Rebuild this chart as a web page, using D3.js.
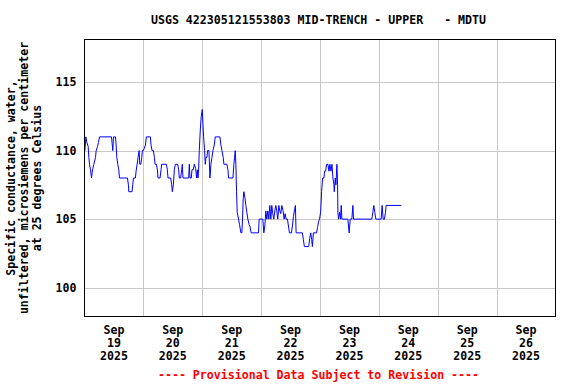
<!DOCTYPE html>
<html><head><meta charset="utf-8">
<script src="https://cdn.jsdelivr.net/npm/d3@7"></script>
<style>
html,body{margin:0;padding:0;background:#fff;}
text{font-family:"DejaVu Sans Mono",monospace;font-weight:bold;white-space:pre;}
</style></head>
<body>
<svg id="c" width="576" height="384"></svg>
<script>
const title = "USGS 422305121553803 MID-TRENCH - UPPER   - MDTU";
const yLabelLines = ["Specific conductance, water,", "unfiltered, microsiemens per centimeter", "at 25 degrees Celsius"];
const footer = "---- Provisional Data Subject to Revision ----";
const yTicks = [100, 105, 110, 115];
const dayLabels = ["19", "20", "21", "22", "23", "24", "25", "26"];
const monthLabel = "Sep";
const yearLabel = "2025";
// hours after 2025-09-19 00:00
const hours = [0.15,0.56,0.96,1.5,1.78,2.05,2.45,2.86,3.13,3.4,3.81,4.49,4.76,5.3,5.71,6.11,11.0,11.27,11.54,11.81,12.62,12.9,13.17,13.57,13.98,14.25,17.5,17.91,18.05,19.4,19.68,19.94,20.76,21.03,21.44,21.84,22.25,22.52,22.93,23.34,23.6,24.0,24.83,25.23,26.86,27.13,27.54,28.08,28.49,28.76,29.3,29.71,29.98,30.79,31.2,31.47,33.37,33.77,34.05,35.13,35.54,35.81,36.22,36.62,37.03,37.98,38.39,38.66,39.2,39.61,39.88,40.15,42.46,42.73,43.0,43.54,43.81,44.36,44.77,45.31,45.72,45.99,46.25,46.52,46.79,47.2,47.6,48.01,48.28,48.56,48.96,49.23,49.5,49.91,50.18,50.73,51.13,51.54,51.95,52.35,52.9,53.3,55.2,55.61,56.02,56.56,56.83,58.05,58.46,58.73,60.49,60.9,61.17,61.44,61.71,61.98,62.25,62.79,63.2,63.74,64.15,64.42,64.69,64.96,65.37,65.78,66.18,66.59,67.13,67.4,67.95,70.93,71.2,72.69,73.1,73.51,73.91,74.32,74.73,75.13,75.54,75.95,76.35,76.76,77.17,77.57,77.98,78.39,78.79,79.2,79.61,80.01,80.42,80.96,81.37,81.78,82.18,82.73,83.13,83.54,84.35,84.76,85.17,85.57,85.98,86.25,88.83,89.23,89.64,91.4,91.81,92.22,92.62,92.9,93.3,93.98,94.6,95.0,95.4,95.8,96.25,96.66,97.07,97.6,97.88,98.29,98.7,99.24,99.64,100.05,100.46,100.86,101.27,101.68,101.81,102.22,102.49,102.9,103.17,103.3,103.57,103.98,104.38,104.65,104.92,107.36,107.63,107.9,108.31,108.99,109.4,109.67,117.13,117.54,117.94,118.35,118.76,120.93,121.33,121.74,122.28,122.69,122.96,129.1];
const values = [110,111,110.6,110.3,109.5,109,108.6,108,108.4,108.7,109,109.5,110,110.3,110.6,111,111,110.5,110,111,111,110.4,109.5,109,108.6,108,108,107.5,107,107,107.5,108,108,108.5,109,109.5,110,109,109,109.5,110,110,110.4,111,111,110.4,110,110,109.5,109,109,108.6,108,108,108.6,109,109,108.6,108,108,107.5,107,107.5,108.6,109,109,108.6,108,108,108.6,109,108,108,109,108,108,108.6,108.6,109,108.7,108,108.6,108,108.6,110,111.5,112.5,113,112,111,110,109,109.5,109.5,110,110,108,109,109.5,110,110.4,111,111,110.4,110,109.5,109,109,108.6,108,108,109,109.5,110,109,107,105.5,105,104.6,104,104,105,106.5,107,106.6,106,105.5,105,104.6,104.5,104,104,105,105,104,104.5,105.6,105,105.6,105,106,105,106,105.4,105,105.6,106,105.6,105,106,105.6,105.4,106,105.6,105,105.4,105,105,104.5,104,104,104.5,105.2,105.6,106,104,104,103.5,103,103,103.6,104,103.5,103,104,104,104,104.4,104.8,105,105.5,107,108,108,108.5,108.5,109,109,108.5,109,108.5,109,108,107.5,107,108,107.5,109,107.5,105.5,105,105.5,105,106,105,105,104.5,104,105,105,106,105,105,105.5,106,105.5,105,105,106,105,105,105.5,106,106];

const svg = d3.select("#c");
const start = new Date(2025, 8, 19, 0, 0);
const end = new Date(2025, 8, 27, 0, 0);
const mL = 84.5, mR = 555.5, mT = 39.5, mB = 316.5;
const x = d3.scaleTime().domain([start, end]).range([mL, mR]);
const y = d3.scaleLinear().domain([97.9, 118.1]).range([mB, mT]);

const data = hours.map((h, i) => ({t: new Date(start.getTime() + h * 3600e3), v: values[i]}));

// gridlines
const midnights = d3.timeDay.range(d3.timeDay.offset(start, 1), end);
svg.append("g").attr("transform", `translate(0,${mB})`)
  .call(d3.axisBottom(x).tickValues(midnights).tickSize(-(mB - mT)).tickFormat(""))
  .call(g => g.select(".domain").remove())
  .call(g => g.selectAll("line").attr("stroke", "#c8c8c8").attr("shape-rendering", "crispEdges"));
svg.append("g").attr("transform", `translate(${mL},0)`)
  .call(d3.axisLeft(y).tickValues(yTicks).tickSize(-(mR - mL)).tickFormat(d => d).tickPadding(8))
  .call(g => g.select(".domain").remove())
  .call(g => g.selectAll("line").attr("stroke", "#c8c8c8").attr("shape-rendering", "crispEdges"))
  .call(g => g.selectAll("text").attr("font-size", "11.6px").attr("fill", "#000")
     .style("font-family", "DejaVu Sans Mono").style("font-weight", "bold"));

// line
svg.append("path").datum(data)
  .attr("fill", "none").attr("stroke", "#0000ff").attr("stroke-width", 1)
  .attr("d", d3.line().x(d => x(d.t)).y(d => y(d.v)));

// frame
svg.append("rect").attr("x", mL).attr("y", mT).attr("width", mR - mL).attr("height", mB - mT)
  .attr("fill", "none").attr("stroke", "#000").attr("stroke-width", 1).attr("shape-rendering", "crispEdges");

// x labels at noon
const noons = dayLabels.map((d, i) => d3.timeHour.offset(start, 12 + 24 * i));
const xl = svg.append("g").attr("font-size", "11.6px").attr("text-anchor", "middle");
noons.forEach((n, i) => {
  const t = xl.append("text").attr("x", x(n)).attr("y", 334);
  t.append("tspan").attr("x", x(n)).attr("dy", 0).text(monthLabel);
  t.append("tspan").attr("x", x(n)).attr("dy", 13).text(dayLabels[i]);
  t.append("tspan").attr("x", x(n)).attr("dy", 13).text(yearLabel);
});

// title
svg.append("text").attr("x", 318.5).attr("y", 24).attr("text-anchor", "middle")
  .attr("font-size", "11.6px").attr("xml:space", "preserve").text(title);

// y label
const yl = svg.append("g").attr("font-size", "11.6px").attr("text-anchor", "middle");
[15, 28, 41].forEach((bx, i) => {
  yl.append("text").attr("transform", `translate(${bx},178) rotate(-90)`).text(yLabelLines[i]);
});

// footer
svg.append("text").attr("x", 318.5).attr("y", 379).attr("text-anchor", "middle")
  .attr("font-size", "11.6px").attr("fill", "#ff0000").text(footer);
</script>
</body></html>
